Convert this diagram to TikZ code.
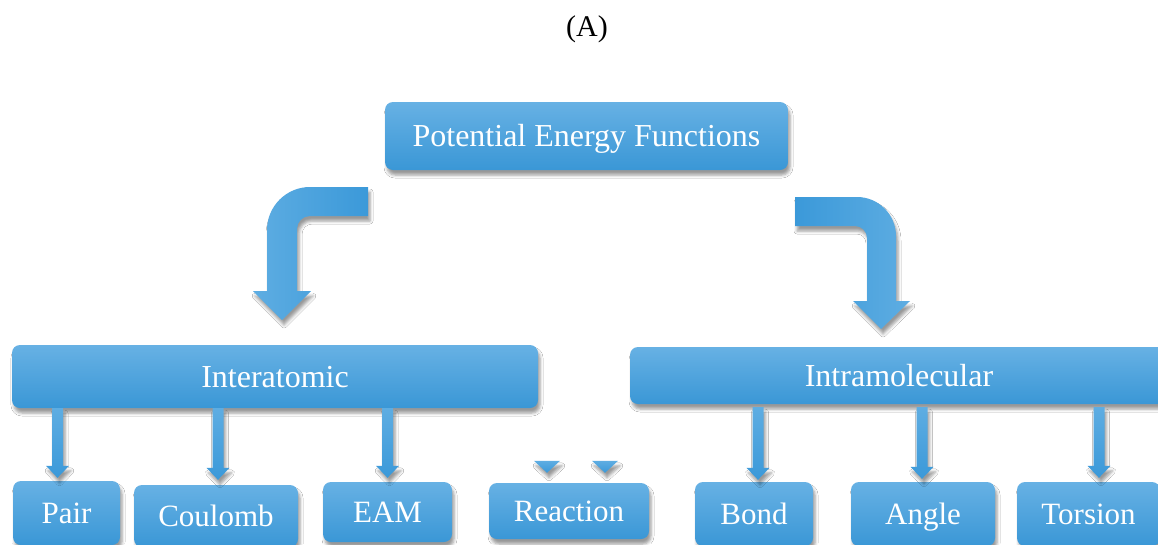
\documentclass[tikz,border=0pt]{standalone}
\usepackage{fontspec}
\setmainfont{Liberation Serif}
\usetikzlibrary{calc,shadows.blur}
\definecolor{btop}{HTML}{67B1E4}
\definecolor{bmid}{HTML}{47A7E5}
\definecolor{bbot}{HTML}{3A97D6}
\definecolor{adark}{HTML}{3B99D9}
\definecolor{alight}{HTML}{5EADE2}
\tikzset{
  myshadow/.style={blur shadow={shadow xshift=2pt, shadow yshift=-5pt, shadow blur radius=3pt, shadow blur extra rounding=0pt, shadow opacity=40}},
  boxbase/.style={rounded corners=8pt, top color=btop, middle color=bmid, bottom color=bbot,
    text=white, inner sep=0pt, text height=21pt, text depth=0pt, myshadow},
  bigbox/.style={boxbase, font=\fontsize{32}{38}\selectfont},
  smallbox/.style={boxbase, font=\fontsize{31}{37}\selectfont},
  smallarrow/.style={top color=alight, bottom color=adark, myshadow},
  bigarrowL/.style={left color=alight, right color=adark, myshadow},
  bigarrowR/.style={left color=adark, right color=alight, myshadow},
}
\newcommand\vArr[2]{%
  \shade[smallarrow] ($(#1)+(-5.5,0)$) -- ($(#1)+(5.5,0)$) -- ($(#2)+(5.5,-12)$) -- ($(#2)+(11.5,-12)$) -- (#2)
     -- ($(#2)+(-11.5,-12)$) -- ($(#2)+(-5.5,-12)$) -- cycle;}
\newcommand\tri[1]{%
  \shade[smallarrow] ($(#1)+(-13,-12)$) -- ($(#1)+(13,-12)$) -- (#1) -- cycle;}
\begin{document}
\begin{tikzpicture}[x=1pt,y=-1pt]
\useasboundingbox[fill=white] (0,0) rectangle (1158,544);

\node[font=\fontsize{30}{36}\selectfont, text height=21pt, text depth=0pt, inner sep=0pt] (title) at (587,25.5) {(A)};

\node[bigbox, minimum width=403pt, minimum height=68pt] (pef) at (586.5,136) {Potential Energy Functions};
\node[bigbox, minimum width=526pt, minimum height=63pt] (inter) at (275,376.5) {Interatomic};
\node[bigbox, minimum width=538pt, minimum height=57pt] (intra) at (899,375.5) {Intramolecular};

\node[smallbox, minimum width=107pt, minimum height=64pt] (pair) at (66.5,513) {Pair};
\node[smallbox, minimum width=164pt, minimum height=62pt] (coul) at (216,516) {Coulomb};
\node[smallbox, minimum width=129pt, minimum height=60pt] (eam) at (387.5,512) {EAM};
\node[smallbox, minimum width=160pt, minimum height=56pt] (reac) at (569,511) {Reaction};
\node[smallbox, minimum width=118pt, minimum height=64pt] (bond) at (754,514) {Bond};
\node[smallbox, minimum width=144pt, minimum height=64pt] (angle) at (923,514) {Angle};
\node[smallbox, minimum width=143pt, minimum height=64pt] (tors) at (1088.5,514) {Torsion};

% big curved arrows
\coordinate (tipL) at (282,320);
\coordinate (tipR) at (881,329);
\shade[bigarrowL] (368,187) -- (310,187) .. controls (286.25,187) and (267,206.25) .. (267,230)
  -- (267,291) -- (253,291) -- (tipL) -- (311,291) -- (297,291) -- (297,229)
  .. controls (297,221.8) and (302.8,216) .. (310,216) -- (368,216) -- cycle;
\shade[bigarrowR] (795,197) -- (857,197) .. controls (878.5,197) and (896,214.5) .. (896,236)
  -- (896,301) -- (910,301) -- (tipR) -- (853,301) -- (867,301) -- (867,238)
  .. controls (867,231.4) and (861.6,226) .. (855,226) -- (795,226) -- cycle;

% small arrows
\coordinate (s1) at (57.5,0 |- inter.south);
\coordinate (t1) at ($(57.5,0 |- pair.north)+(0,-3)$);
\coordinate (s2) at (218,0 |- inter.south);
\coordinate (t2) at ($(218,0 |- coul.north)+(0,-5)$);
\coordinate (s3) at (387.5,0 |- inter.south);
\coordinate (t3) at ($(387.5,0 |- eam.north)+(0,-4)$);
\coordinate (s4) at ($(758,0 |- intra.south)+(0,3)$);
\coordinate (t4) at ($(758,0 |- bond.north)+(0,-2)$);
\coordinate (s5) at ($(922,0 |- intra.south)+(0,3)$);
\coordinate (t5) at ($(922,0 |- angle.north)+(0,-3)$);
\coordinate (s6) at ($(1099,0 |- intra.south)+(0,3)$);
\coordinate (t6) at ($(1099,0 |- tors.north)+(0,-4)$);
\vArr{s1}{t1}
\vArr{s2}{t2}
\vArr{s3}{t3}
\vArr{s4}{t4}
\vArr{s5}{t5}
\vArr{s6}{t6}

\coordinate (r1) at ($(547,0 |- reac.north)+(0,-10)$);
\coordinate (r2) at ($(605,0 |- reac.north)+(0,-10)$);
\tri{r1}
\tri{r2}
\end{tikzpicture}
\end{document}
